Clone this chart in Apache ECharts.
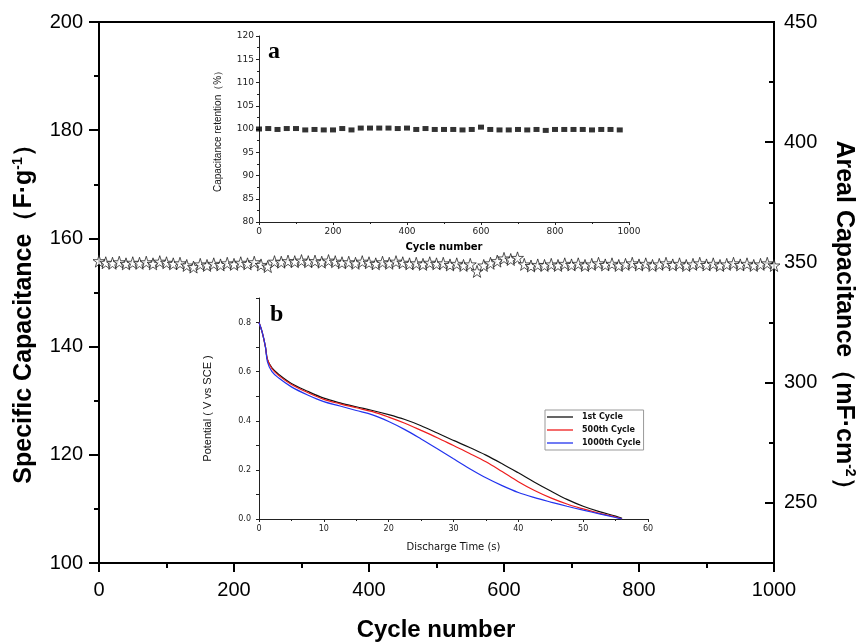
<!DOCTYPE html>
<html><head><meta charset="utf-8">
<script src="https://cdn.jsdelivr.net/npm/echarts@6/dist/echarts.min.js"></script>
<style>html,body{margin:0;padding:0;background:#fff}#c{width:859px;height:642px}</style>
</head><body><div id="c"></div><script>
// ---- main chart data: specific capacitance vs cycle number ----
const cycleMain = [0,10,20,30,40,50,60,70,80,90,100,110,120,130,140,150,160,170,180,190,200,210,220,230,240,250,260,270,280,290,300,310,320,330,340,350,360,370,380,390,400,410,420,430,440,450,460,470,480,490,500,510,520,530,540,550,560,570,580,590,600,610,620,630,640,650,660,670,680,690,700,710,720,730,740,750,760,770,780,790,800,810,820,830,840,850,860,870,880,890,900,910,920,930,940,950,960,970,980,990,1000];
const specCap = [
155.8,155.5,155.4,155.6,155.3,155.5,155.4,155.6,155.3,155.7,
155.5,155.3,155.4,155.0,154.7,155.2,155.0,155.3,155.1,155.4,
155.2,155.5,155.3,155.6,155.1,154.8,155.7,155.6,155.8,155.7,
155.9,155.7,155.8,155.6,155.9,155.7,155.5,155.6,155.4,155.7,
155.5,155.3,155.6,155.4,155.7,155.5,155.3,155.4,155.2,155.5,
155.3,155.4,155.1,155.3,155.0,155.2,153.9,155.0,155.4,155.8,
156.3,156.1,156.4,155.2,154.9,155.1,155.0,155.2,155.0,155.3,
155.1,155.3,155.0,155.2,155.4,155.1,155.3,155.0,155.2,155.4,
155.1,155.3,155.0,155.2,155.4,155.1,155.3,155.0,155.2,155.4,
155.1,155.3,155.0,155.2,155.4,155.1,155.3,155.0,155.2,155.4,155.0];
const mainXTickLabels = [0,200,400,600,800,1000];
const leftTickLabels = [100,120,140,160,180,200];
const rightTickLabels = [250,300,350,400,450];
const rightMinorTicks = [275,325,375,425];

// ---- inset a: capacitance retention ----
const cycleRet = [0,25,50,75,100,125,150,175,200,225,250,275,300,325,350,375,400,425,450,475,500,525,550,575,600,625,650,675,700,725,750,775,800,825,850,875,900,925,950,975];
const retention = [100.0,100.1,99.9,100.1,100.1,99.8,99.9,99.8,99.8,100.1,99.8,100.2,100.2,100.2,100.2,100.1,100.2,99.9,100.1,99.9,99.9,99.9,99.8,99.9,100.4,99.9,99.8,99.8,99.9,99.8,99.9,99.7,99.9,99.9,99.9,99.9,99.8,99.9,99.9,99.8];

// ---- inset b: discharge curves ----
const timeB = [0,0.5,1,1.3,2,3,5,7.5,10,12.5,15,17.5,20,22.5,25,27.5,30,32.5,35,37.5,40,42.5,45,47.5,50,52.5,55,56];
const pot1st = [0.80,0.76,0.70,0.65,0.615,0.59,0.552,0.52,0.492,0.473,0.457,0.442,0.425,0.405,0.380,0.350,0.320,0.291,0.260,0.225,0.188,0.150,0.114,0.080,0.052,0.030,0.012,0.003];
const pot500th = [0.80,0.76,0.70,0.65,0.612,0.585,0.548,0.515,0.487,0.469,0.453,0.437,0.415,0.390,0.361,0.331,0.299,0.267,0.233,0.193,0.152,0.116,0.086,0.061,0.041,0.023,0.008,0.0];
const pot1000th = [0.80,0.76,0.70,0.64,0.60,0.575,0.538,0.505,0.478,0.460,0.442,0.424,0.397,0.364,0.326,0.286,0.245,0.205,0.168,0.136,0.108,0.087,0.069,0.052,0.036,0.021,0.006,0.0];
const legendNames = ['1st Cycle','500th Cycle','1000th Cycle'];

const zip = (a,b) => a.map((v,i)=>[v,b[i]]);
const F = "'Liberation Sans', Arial, sans-serif";
const FN = "'Liberation Sans Narrow', 'Liberation Sans', Arial, sans-serif";
const FD = "'DejaVu Sans', Verdana, sans-serif";
const STAR = 'path://M50,2 L61,36 L97,36 L68,57 L79,92 L50,71 L21,92 L32,57 L3,36 L39,36 Z';
const plain = v => String(v);

const chart = echarts.init(document.getElementById('c'), null, {renderer:'canvas'});
const option = {
  backgroundColor:'#fff',
  animation:false,
  grid:[
    {left:99, top:22, width:675, height:541, show:true, borderColor:'#000', borderWidth:2, backgroundColor:'transparent'},
    {left:259, top:36, width:370, height:186},
    {left:259, top:298, width:389, height:221}
  ],
  xAxis:[
    {gridIndex:0, type:'value', min:0, max:1000, interval:200,
     axisLine:{lineStyle:{color:'#000', width:2}},
     axisTick:{length:9, lineStyle:{width:2, color:'#000'}},
     minorTick:{show:true, splitNumber:2, length:5, lineStyle:{width:2, color:'#000'}},
     axisLabel:{fontSize:20, fontFamily:F, color:'#000', margin:17, customValues:mainXTickLabels, formatter:plain},
     splitLine:{show:false}},
    {gridIndex:1, type:'value', min:0, max:1000, interval:200,
     name:'Cycle number', nameLocation:'middle', nameGap:20,
     nameTextStyle:{fontSize:10, fontWeight:'bold', fontFamily:FD, color:'#000'},
     axisLine:{lineStyle:{color:'#222', width:1}},
     axisTick:{length:3, lineStyle:{color:'#222'}},
     minorTick:{show:true, splitNumber:2, length:2, lineStyle:{color:'#222'}},
     axisLabel:{fontSize:9, fontFamily:FD, color:'#222', margin:5, formatter:plain},
     splitLine:{show:false}},
    {gridIndex:2, type:'value', min:0, max:60, interval:10,
     name:'Discharge Time (s)', nameLocation:'middle', nameGap:23,
     nameTextStyle:{fontSize:10, fontFamily:FD, color:'#111'},
     axisLine:{lineStyle:{color:'#222', width:1}},
     axisTick:{length:3, lineStyle:{color:'#222'}},
     minorTick:{show:true, splitNumber:2, length:2, lineStyle:{color:'#222'}},
     axisLabel:{fontSize:8, fontFamily:FD, color:'#222', margin:6},
     splitLine:{show:false}}
  ],
  yAxis:[
    {gridIndex:0, type:'value', min:100, max:200, interval:20,
     axisLine:{lineStyle:{color:'#000', width:2}},
     axisTick:{length:10, lineStyle:{width:2, color:'#000'}},
     minorTick:{show:true, splitNumber:2, length:5, lineStyle:{width:2, color:'#000'}},
     axisLabel:{fontSize:20, fontFamily:F, color:'#000', margin:16, customValues:leftTickLabels},
     splitLine:{show:false}},
    {gridIndex:0, type:'value', position:'right', min:225, max:450, interval:25,
     axisLine:{show:true, lineStyle:{color:'#000', width:2}},
     axisTick:{show:true, inside:true, length:9, lineStyle:{width:2, color:'#000'}, customValues:rightTickLabels},
     axisLabel:{fontSize:20, fontFamily:F, color:'#000', margin:10, customValues:rightTickLabels},
     splitLine:{show:false}},
    {gridIndex:0, type:'value', position:'right', min:225, max:450, interval:25,
     axisLine:{show:false},
     axisTick:{show:true, inside:true, length:5, lineStyle:{width:2, color:'#000'}, customValues:rightMinorTicks},
     axisLabel:{show:false},
     splitLine:{show:false}},
    {gridIndex:1, type:'value', min:80, max:120, interval:5,
     name:'Capacitance retention（%）', nameLocation:'middle', nameGap:36, nameRotate:90,
     nameTextStyle:{fontSize:10, fontFamily:FN, color:'#111'},
     axisLine:{show:true, lineStyle:{color:'#222', width:1}},
     axisTick:{length:3, lineStyle:{color:'#222'}},
     minorTick:{show:true, splitNumber:2, length:2, lineStyle:{color:'#222'}},
     axisLabel:{fontSize:9, fontFamily:FD, color:'#222', margin:5},
     splitLine:{show:false}},
    {gridIndex:2, type:'value', min:0, max:0.9, interval:0.1,
     name:'Potential ( V vs SCE )', nameLocation:'middle', nameGap:46, nameRotate:90,
     nameTextStyle:{fontSize:11, fontFamily:FN, color:'#111'},
     axisLine:{show:true, lineStyle:{color:'#222', width:1}},
     axisTick:{length:3, lineStyle:{color:'#222'}},
     axisLabel:{fontSize:8, fontFamily:FD, color:'#222', margin:8,
       customValues:[0,0.2,0.4,0.6,0.8], formatter:v=>Number(v).toFixed(1)},
     splitLine:{show:false}}
  ],
  legend:{
    data:legendNames.map(n=>({name:n, icon:'rect'})), left:545, top:410, orient:'vertical',
    padding:[1,3,1,2], itemGap:1, itemWidth:26, itemHeight:1.3,
    borderColor:'#999', borderWidth:1, backgroundColor:'#fff',
    textStyle:{fontSize:8, fontWeight:'bold', fontFamily:FD, color:'#111', padding:[1,0,1,4], lineHeight:10}
  },
  series:[
    {type:'scatter', xAxisIndex:0, yAxisIndex:0, data:zip(cycleMain, specCap),
     symbol:STAR, symbolSize:[12,12],
     itemStyle:{color:'#fff', borderColor:'#111', borderWidth:0.9}, clip:false},
    {type:'scatter', xAxisIndex:1, yAxisIndex:3, data:zip(cycleRet, retention),
     symbol:'rect', symbolSize:[6,5], itemStyle:{color:'#000'}},
    {type:'line', name:legendNames[0], xAxisIndex:2, yAxisIndex:4, data:zip(timeB, pot1st),
     symbol:'none', smooth:0.35, lineStyle:{color:'#111', width:1.2}, itemStyle:{color:'#111'}},
    {type:'line', name:legendNames[1], xAxisIndex:2, yAxisIndex:4, data:zip(timeB, pot500th),
     symbol:'none', smooth:0.35, lineStyle:{color:'#ee1c1c', width:1.2}, itemStyle:{color:'#ee1c1c'}},
    {type:'line', name:legendNames[2], xAxisIndex:2, yAxisIndex:4, data:zip(timeB, pot1000th),
     symbol:'none', smooth:0.35, lineStyle:{color:'#2233ee', width:1.2}, itemStyle:{color:'#2233ee'}}
  ],
  graphic:[
    {type:'text', x:24, y:308, rotation:Math.PI/2,
     style:{text:'{t|Specific Capacitance（F·g}{s|-1}{t|）}', align:'center', verticalAlign:'middle',
       rich:{t:{fontSize:25, fontWeight:'bold', fontFamily:F, fill:'#000'},
             s:{fontSize:14, fontWeight:'bold', fontFamily:F, fill:'#000', verticalAlign:'top'}}}},
    {type:'text', x:844, y:321, rotation:-Math.PI/2,
     style:{text:'{t|Areal Capacitance（mF·cm}{s|-2}{t|）}', align:'center', verticalAlign:'middle',
       rich:{t:{fontSize:25, fontWeight:'bold', fontFamily:F, fill:'#000'},
             s:{fontSize:14, fontWeight:'bold', fontFamily:F, fill:'#000', verticalAlign:'top'}}}},
    {type:'text', x:436, y:630,
     style:{text:'Cycle number', align:'center', verticalAlign:'middle',
       font:"bold 24px 'Liberation Sans', Arial, sans-serif", fill:'#000'}},
    {type:'text', x:268, y:40,
     style:{text:'a', font:"bold 24px 'Liberation Serif', 'DejaVu Serif', serif", fill:'#000'}},
    {type:'text', x:270, y:303,
     style:{text:'b', font:"bold 24px 'Liberation Serif', 'DejaVu Serif', serif", fill:'#000'}}
  ]
};
chart.setOption(option);
</script></body></html>
